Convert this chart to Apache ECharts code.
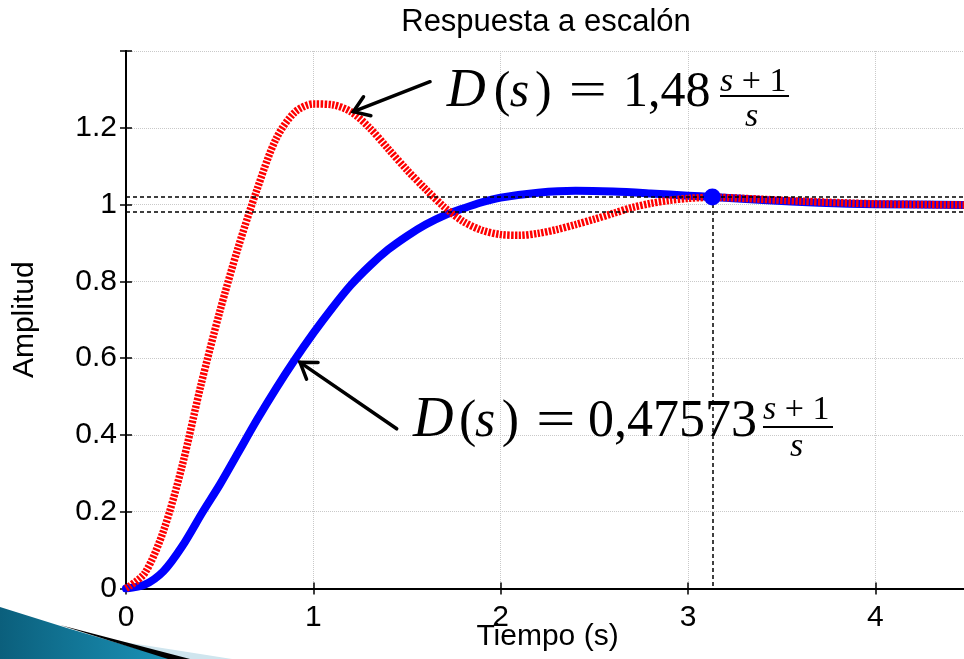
<!DOCTYPE html>
<html>
<head>
<meta charset="utf-8">
<script src="https://cdn.jsdelivr.net/npm/echarts@6/dist/echarts.min.js"></script>
<style>
  html, body { margin: 0; padding: 0; background: #fff; overflow: hidden; }
  #c { width: 964px; height: 659px; }
</style>
</head>
<body>
<div id="c"></div>
<script>
// Step response samples: time (s) and amplitude for each controller gain
const tBlue = [0, 0.1, 0.2, 0.3, 0.41, 0.5, 0.6, 0.7, 0.8, 0.9, 1.0, 1.1, 1.2, 1.3, 1.4, 1.5, 1.6, 1.7, 1.8, 1.9, 2.0, 2.2, 2.4, 2.6, 2.8, 3.0, 3.13, 3.4, 3.7, 4.0, 4.5];
const yBlue = [0, 0.01, 0.045, 0.11, 0.2, 0.27, 0.355, 0.44, 0.52, 0.595, 0.665, 0.73, 0.79, 0.84, 0.883, 0.918, 0.948, 0.972, 0.99, 1.006, 1.018, 1.031, 1.036, 1.034, 1.029, 1.023, 1.02, 1.012, 1.005, 1.001, 0.999];

const tRed = [0, 0.1, 0.2, 0.3, 0.4, 0.5, 0.6, 0.7, 0.8, 0.9, 1.0, 1.1, 1.2, 1.3, 1.4, 1.5, 1.6, 1.7, 1.8, 1.9, 2.0, 2.1, 2.2, 2.3, 2.4, 2.5, 2.6, 2.7, 2.8, 2.9, 3.0, 3.13, 3.3, 3.6, 4.0, 4.5];
const yRed = [0, 0.04, 0.15, 0.32, 0.53, 0.72, 0.89, 1.04, 1.17, 1.24, 1.262, 1.26, 1.242, 1.2, 1.145, 1.09, 1.04, 0.993, 0.956, 0.933, 0.922, 0.92, 0.925, 0.935, 0.948, 0.962, 0.977, 0.992, 1.003, 1.011, 1.016, 1.019, 1.016, 1.009, 1.002, 0.999];

// 2% settling band and settling point
const settleBand = [0.98, 1.02];
const settleT = 3.13;
const settleY = 1.02;

// Axis ranges and tick steps
const xRange = [0, 4.5];
const yRange = [0, 1.4];
const xStep = 1;
const yStep = 0.2;

// Annotation labels
const titleText = 'Respuesta a escalón';
const xName = 'Tiempo (s)';
const yName = 'Amplitud';
const gainHigh = '1,48';
const gainLow = '0,47573';

const zip = (a, b) => a.map((v, i) => [v, b[i]]);

const SANS = '"Liberation Sans", Arial, Helvetica, sans-serif';
const SERIF = '"Liberation Serif", "Times New Roman", serif';
const gridLine = { show: true, lineStyle: { color: '#c9c9c9', type: 'dotted', width: 1 } };
const blackLine = { show: true, lineStyle: { color: '#000', width: 2 } };
const innerTick = { show: true, inside: true, length: 6, lineStyle: { color: '#000', width: 1.5 } };

const chart = echarts.init(document.getElementById('c'), null, { renderer: 'canvas' });

const option = {
  animation: false,
  backgroundColor: '#fff',
  grid: { left: 126, top: 51, right: -5, bottom: 70.5, containLabel: false, outerBoundsMode: 'none' },
  xAxis: [
    {
      type: 'value', min: xRange[0], max: xRange[1], interval: xStep,
      axisLine: blackLine, axisTick: innerTick, splitLine: gridLine,
      axisLabel: {
        color: '#000', fontSize: 30, fontFamily: SANS, margin: 14,
        showMaxLabel: false,
        formatter: v => (Number.isInteger(v) ? String(v) : '')
      },
      name: xName, nameLocation: 'middle', nameGap: 33, nameMoveOverlap: false,
      nameTextStyle: { color: '#000', fontSize: 30, fontFamily: SANS }
    },
    {
      type: 'value', position: 'top', min: xRange[0], max: xRange[1], interval: xStep,
      axisLine: blackLine, axisTick: innerTick, splitLine: { show: false },
      axisLabel: { show: false }
    }
  ],
  yAxis: [
    {
      type: 'value', min: yRange[0], max: yRange[1], interval: yStep,
      axisLine: blackLine, axisTick: innerTick, splitLine: gridLine,
      axisLabel: {
        color: '#000', fontSize: 30, fontFamily: SANS, margin: 9,
        formatter: v => (Math.abs(v - yRange[1]) < 1e-6 ? '' : String(+v.toFixed(1)))
      },
      name: yName, nameLocation: 'middle', nameGap: 86, nameRotate: 90, nameMoveOverlap: false,
      nameTextStyle: { color: '#000', fontSize: 30, fontFamily: SANS }
    },
    {
      type: 'value', position: 'right', min: yRange[0], max: yRange[1], interval: yStep,
      axisLine: blackLine, axisTick: innerTick, splitLine: { show: false },
      axisLabel: { show: false }
    }
  ],
  series: [
    {
      // settling band and settling-time guide
      type: 'line', data: [], z: 1, silent: true,
      markLine: {
        silent: true, symbol: 'none', label: { show: false },
        lineStyle: { color: '#000', type: [4, 3], width: 1.5 },
        data: [
          { yAxis: settleBand[1] },
          { yAxis: settleBand[0] },
          [{ coord: [settleT, settleY] }, { coord: [settleT, yRange[0]] }]
        ]
      }
    },
    {
      name: 'low', type: 'line', data: zip(tBlue, yBlue), smooth: 0.3, showSymbol: false,
      symbol: 'none', z: 2,
      lineStyle: { color: '#0000ff', width: 8, cap: 'round', join: 'round' }
    },
    {
      name: 'high', type: 'line', data: zip(tRed, yRed), smooth: 0.3, showSymbol: false,
      symbol: 'none', z: 3,
      lineStyle: { color: '#ff0000', width: 7.5, type: [2.4, 1.4], cap: 'butt' }
    },
    {
      type: 'scatter', data: [[settleT, settleY]], symbolSize: 17, z: 5,
      itemStyle: { color: '#0000ff', opacity: 1 }
    }
  ]
};

chart.setOption(option);

const px = p => chart.convertToPixel({ xAxisIndex: 0, yAxisIndex: 0 }, p);

// Text placed by baseline: shift to the em-box middle used by canvas
function txt(x, baseline, text, size, family, italic, extra) {
  const k = family === SANS ? 0.3465 : 0.3375;
  return Object.assign({
    type: 'text', x: x, y: baseline - k * size, z: 20,
    style: {
      text: text, fill: '#000', fontSize: size, fontFamily: family,
      fontStyle: italic ? 'italic' : 'normal',
      align: 'left', verticalAlign: 'middle'
    }
  }, extra || {});
}

function formula(anchor, gain, o) {
  const p = px(anchor);
  const x0 = p[0], b = p[1];
  const S = o.size, N = 34;
  return [
    txt(x0, b, 'D', S * 1.08, SERIF, true),
    txt(x0 + o.lp, b, '(', S, SERIF, false),
    txt(x0 + o.s, b, 's', S, SERIF, true),
    txt(x0 + o.rp, b, ')', S, SERIF, false),
    txt(x0 + o.eq, b, '=', S, SERIF, false, { scaleX: 1.35 }),
    txt(x0 + o.num, b, gain, S, SERIF, false),
    {
      type: 'text', x: x0 + o.frac, y: b + o.numB - 0.3375 * N, z: 20,
      style: {
        text: '{i|s} + 1', fill: '#000', fontSize: N, fontFamily: SERIF,
        align: 'left', verticalAlign: 'middle',
        rich: { i: { fontStyle: 'italic', fontSize: N, fontFamily: SERIF } }
      }
    },
    {
      type: 'line', z: 20,
      shape: { x1: x0 + o.frac, y1: b + o.bar, x2: x0 + o.frac + o.barW, y2: b + o.bar },
      style: { stroke: '#000', lineWidth: 2 }
    },
    txt(x0 + o.den, b + o.denB, 's', N, SERIF, true)
  ];
}

function arrow(from, to) {
  const a = px(from), b = px(to);
  const ang = Math.atan2(a[1] - b[1], a[0] - b[0]);
  const L = 18, w = 0.6;
  const h1 = [b[0] + L * Math.cos(ang + w), b[1] + L * Math.sin(ang + w)];
  const h2 = [b[0] + L * Math.cos(ang - w), b[1] + L * Math.sin(ang - w)];
  const st = { stroke: '#000', lineWidth: 3.5, lineCap: 'round', lineJoin: 'miter', fill: null };
  return [
    { type: 'line', z: 20, shape: { x1: a[0], y1: a[1], x2: b[0], y2: b[1] }, style: st },
    { type: 'polyline', z: 20, shape: { points: [h1, b, h2] }, style: st }
  ];
}

// Annotation anchors (data units) for the formula baselines and arrows
const highLabelAt = [1.712, 1.247];
const lowLabelAt = [1.532, 0.386];
const highArrow = [[1.623, 1.320], [1.2136, 1.242]];
const lowArrow = [[1.445, 0.416], [0.929, 0.589]];

const graphics = [
  txt(546, 33.3, titleText, 31, SANS, false,
    { style: { text: titleText, fill: '#000', fontSize: 31, fontFamily: SANS, align: 'center', verticalAlign: 'middle' } }),
  ...formula(highLabelAt, gainHigh, {
    size: 50, lp: 47, s: 63, rp: 88.3, eq: 122, num: 176.3,
    frac: 273.3, barW: 69, numB: -16, bar: -13.7, den: 298.3, denB: 19
  }),
  ...formula(lowLabelAt, gainLow, {
    size: 52, lp: 46, s: 62, rp: 88.7, eq: 123, num: 175,
    frac: 350, barW: 70, numB: -19, bar: -13.3, den: 377, denB: 18
  }),
  ...arrow(highArrow[0], highArrow[1]),
  ...arrow(lowArrow[0], lowArrow[1]),
  // slide corner ribbon
  {
    type: 'polygon', z: 30,
    shape: { points: [[105, 639], [232, 659], [180, 659]] },
    style: { fill: '#cfe5ee' }
  },
  {
    type: 'polygon', z: 31,
    shape: { points: [[0, 607], [67, 628], [172, 659], [0, 659]] },
    style: {
      fill: new echarts.graphic.LinearGradient(0, 0, 1, 0, [
        { offset: 0, color: '#0b5f7c' }, { offset: 1, color: '#1b93b8' }
      ])
    }
  },
  {
    type: 'polygon', z: 32,
    shape: { points: [[60, 625], [190, 659], [168, 659]] },
    style: { fill: '#000' }
  }
];

chart.setOption({ graphic: graphics });
</script>
</body>
</html>
